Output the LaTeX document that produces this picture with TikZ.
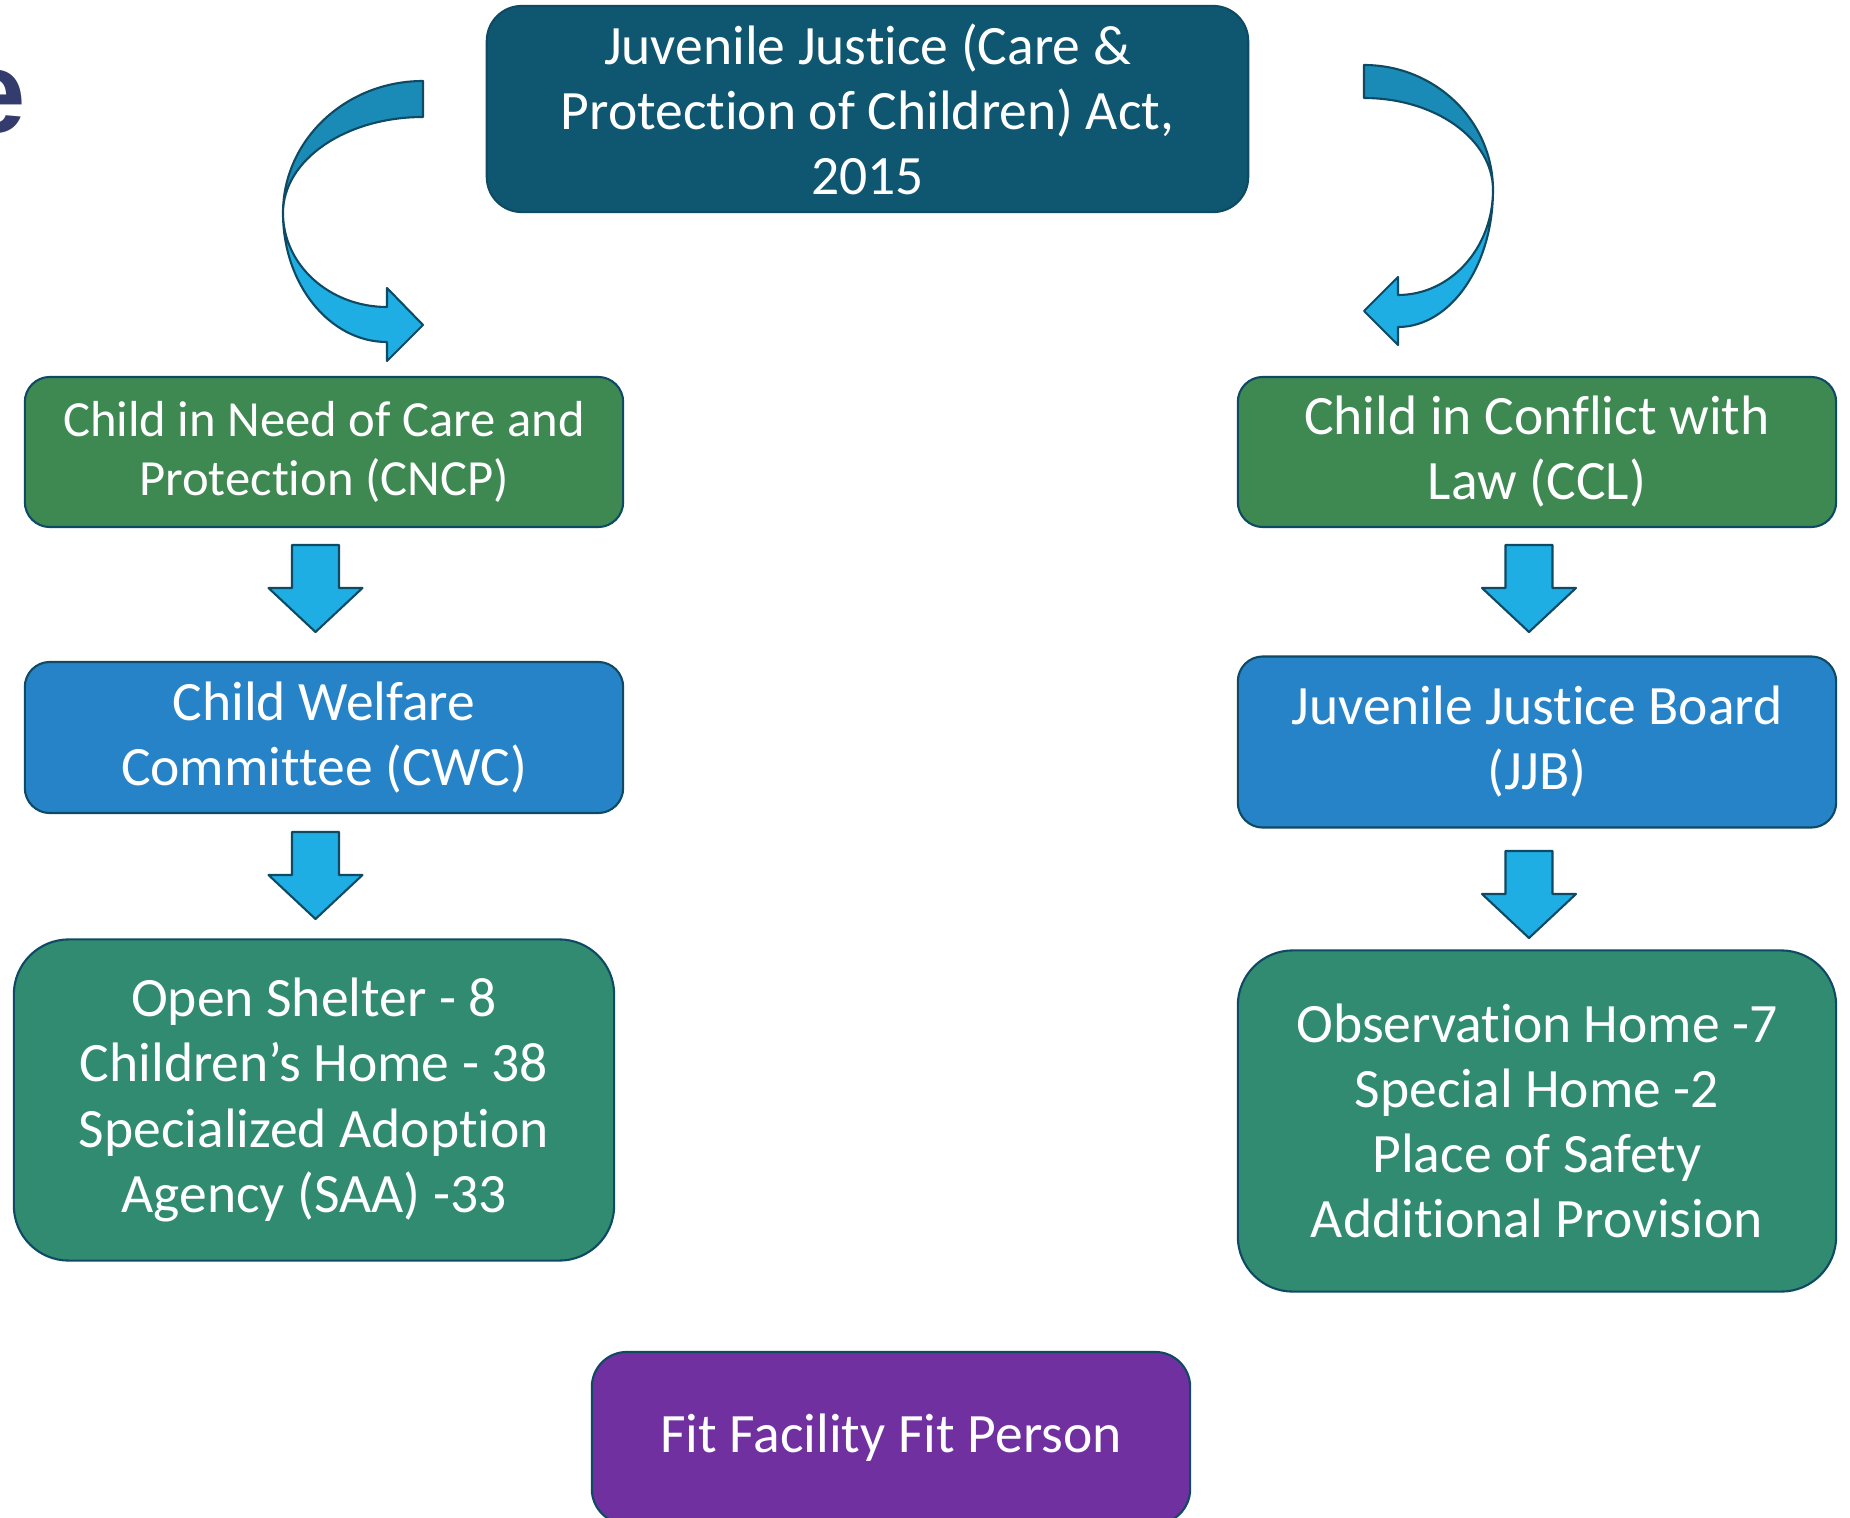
\documentclass[tikz,border=0pt]{standalone}
\usepackage{fontspec}
\setmainfont{Carlito}[RawFeature={-liga;-clig;-calt;-dlig;-rlig}]
\newfontfamily\headfont{Liberation Sans}

\definecolor{actblue}{HTML}{0F5770}
\definecolor{kidgreen}{HTML}{3E8952}
\definecolor{bodyblue}{HTML}{2783C7}
\definecolor{homegreen}{HTML}{318B71}
\definecolor{fitpurple}{HTML}{7030A0}
\definecolor{edgeteal}{HTML}{0E4A63}
\definecolor{arrowlight}{HTML}{1EAEE3}
\definecolor{arrowdark}{HTML}{1A8BB7}
\definecolor{headnavy}{HTML}{343C6E}

\newcommand\boxtext{\fontsize{15.8}{18.5}\selectfont}

\tikzset{
  box/.style={draw=edgeteal, line width=0.6pt, text=white, align=center,
    rounded corners=0.25cm, minimum width=5.98cm, inner sep=0pt, font=\boxtext},
  bandback/.style={fill=arrowdark, draw=edgeteal, line width=0.6pt, line join=round},
  bandfront/.style={fill=arrowlight, draw=edgeteal, line width=0.6pt, line join=round},
  blockdown/.pic={
    \draw[bandfront] (-23.5,0) -- (23.5,0) -- (23.5,43) -- (47,43) -- (0,87)
      -- (-47,43) -- (-23.5,43) -- cycle;
  }
}

\begin{document}
\begin{tikzpicture}[x=0.01cm, y=-0.01cm]
\useasboundingbox (0,0) rectangle (1850,1518);
\clip (0,0) rectangle (1850,1518);

% cut-off title letter
\node[anchor=base west, inner sep=0pt, text=headnavy,
  font=\headfont\bfseries\fontsize{33}{36}\selectfont] (title) at (-39,132) {e};

% top box
\node[box, fill=actblue, minimum width=7.61cm, minimum height=2.06cm,
  rounded corners=0.35cm] (act) at (867.5,109)
  {Juvenile Justice (Care \&\\Protection of Children) Act,\\2015};

% left column
\node[box, fill=kidgreen, minimum height=1.50cm,
  font=\fontsize{14.4}{16.6}\selectfont] (cncp) at (324,452)
  {Child in Need of Care and\\Protection (CNCP)};
\node[box, fill=bodyblue, minimum height=1.51cm] (cwc) at (324,737.5)
  {Child Welfare\\Committee (CWC)};
\node[box, fill=homegreen, minimum width=6.00cm, minimum height=3.21cm,
  rounded corners=0.55cm] (homesL) at (314,1100)
  {Open Shelter - 8\\Children’s Home - 38\\Specialized Adoption\\Agency (SAA) -33};

% right column
\node[box, fill=kidgreen, minimum height=1.50cm] (ccl) at (1537,452)
  {Child in Conflict with\\Law (CCL)};
\node[box, fill=bodyblue, minimum height=1.71cm] (jjb) at (1537,742)
  {Juvenile Justice Board\\(JJB)};
\node[box, fill=homegreen, minimum height=3.41cm,
  rounded corners=0.55cm] (homesR) at (1537,1121)
  {Observation Home -7\\Special Home -2\\Place of Safety\\Additional Provision};

% bottom box
\node[box, fill=fitpurple, minimum height=1.72cm,
  rounded corners=0.35cm] (fit) at (891,1438) {Fit Facility Fit Person};

% curved arrows
\draw[bandback] (423,81) arc[start angle=270, end angle=180, x radius=140, y radius=132]
  arc[start angle=180, end angle=270, x radius=140, y radius=96] -- cycle;
\draw[bandfront] (283,213) arc[start angle=180, end angle=90, x radius=104, y radius=129]
  -- (387,361) -- (423,325) -- (387,288) -- (387,307)
  arc[start angle=90, end angle=180, x radius=104, y radius=94] -- cycle;

\draw[bandback] (1364,65) arc[start angle=270, end angle=360, x radius=129, y radius=125]
  arc[start angle=0, end angle=-90, x radius=129, y radius=92] -- cycle;
\draw[bandfront] (1493,190) arc[start angle=0, end angle=90, x radius=95, y radius=137]
  -- (1398,345) -- (1364,311) -- (1398,277) -- (1398,295)
  arc[start angle=90, end angle=0, x radius=95, y radius=105] -- cycle;

% block arrows
\pic at (315.5,545) {blockdown};
\pic at (315.5,832) {blockdown};
\pic at (1529,545) {blockdown};
\pic at (1529,851) {blockdown};
\end{tikzpicture}
\end{document}
